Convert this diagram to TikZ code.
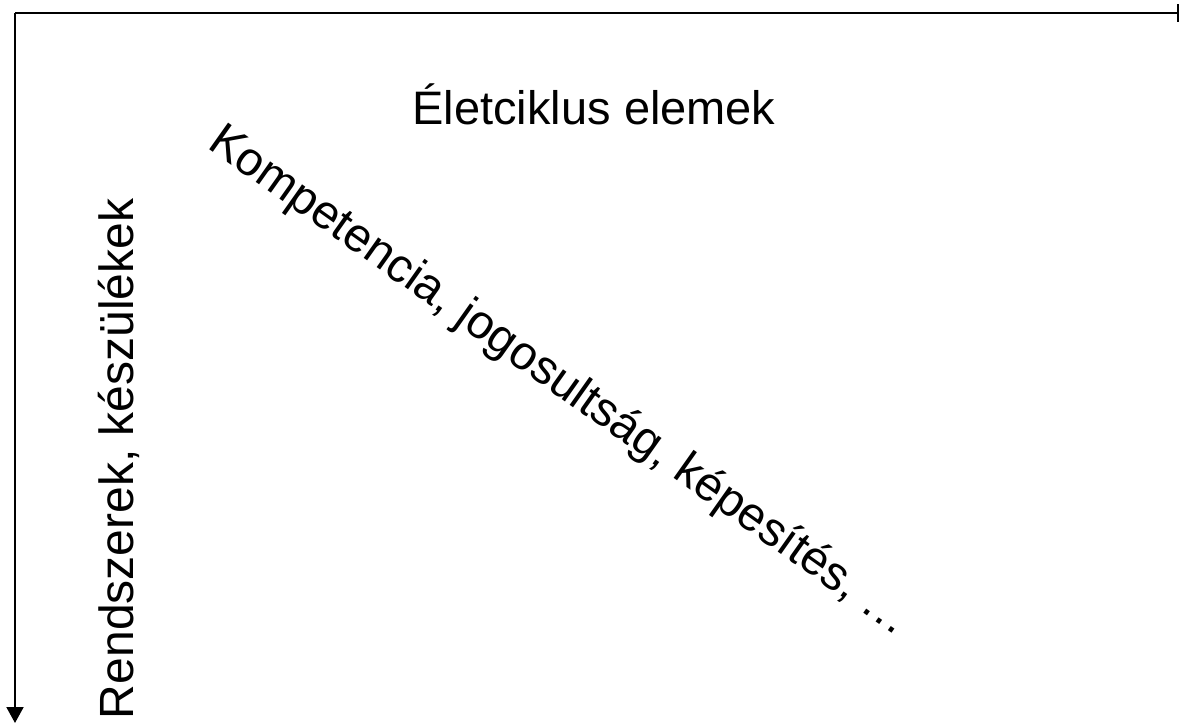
\documentclass[tikz,border=0pt]{standalone}
\usepackage{fontspec}
\setmainfont{Liberation Sans}
\usetikzlibrary{arrows.meta}
\begin{document}
\begin{tikzpicture}[x=1pt,y=-1pt,
  axis/.style={line width=2pt, draw=black},
  lbl/.style={inner sep=0pt, outer sep=0pt, font=\fontsize{48}{48}\selectfont, anchor=base west}]
\useasboundingbox (0,0) rectangle (1181,723);
\coordinate (o) at (15,13);
\coordinate (r) at (1179,13);
\coordinate (b) at (15,723);
\draw[axis, -{Bar[width=18pt,line width=2.5pt]}] (o) -- (r);
\draw[axis, -{Triangle[width=17pt,length=16pt]}] (o) -- (b);
\node[lbl, font=\fontsize{47}{47}\selectfont] (title) at (412.5,124) {Életciklus elemek};
\node[lbl, rotate=90] (rows) at (133,719) {Rendszerek, készülékek};
\node[lbl, rotate=-35.3, font=\fontsize{47.5}{47.5}\selectfont] (diag) at (206,147) {Kompetencia, jogosultság, képesítés, …};
\end{tikzpicture}
\end{document}
